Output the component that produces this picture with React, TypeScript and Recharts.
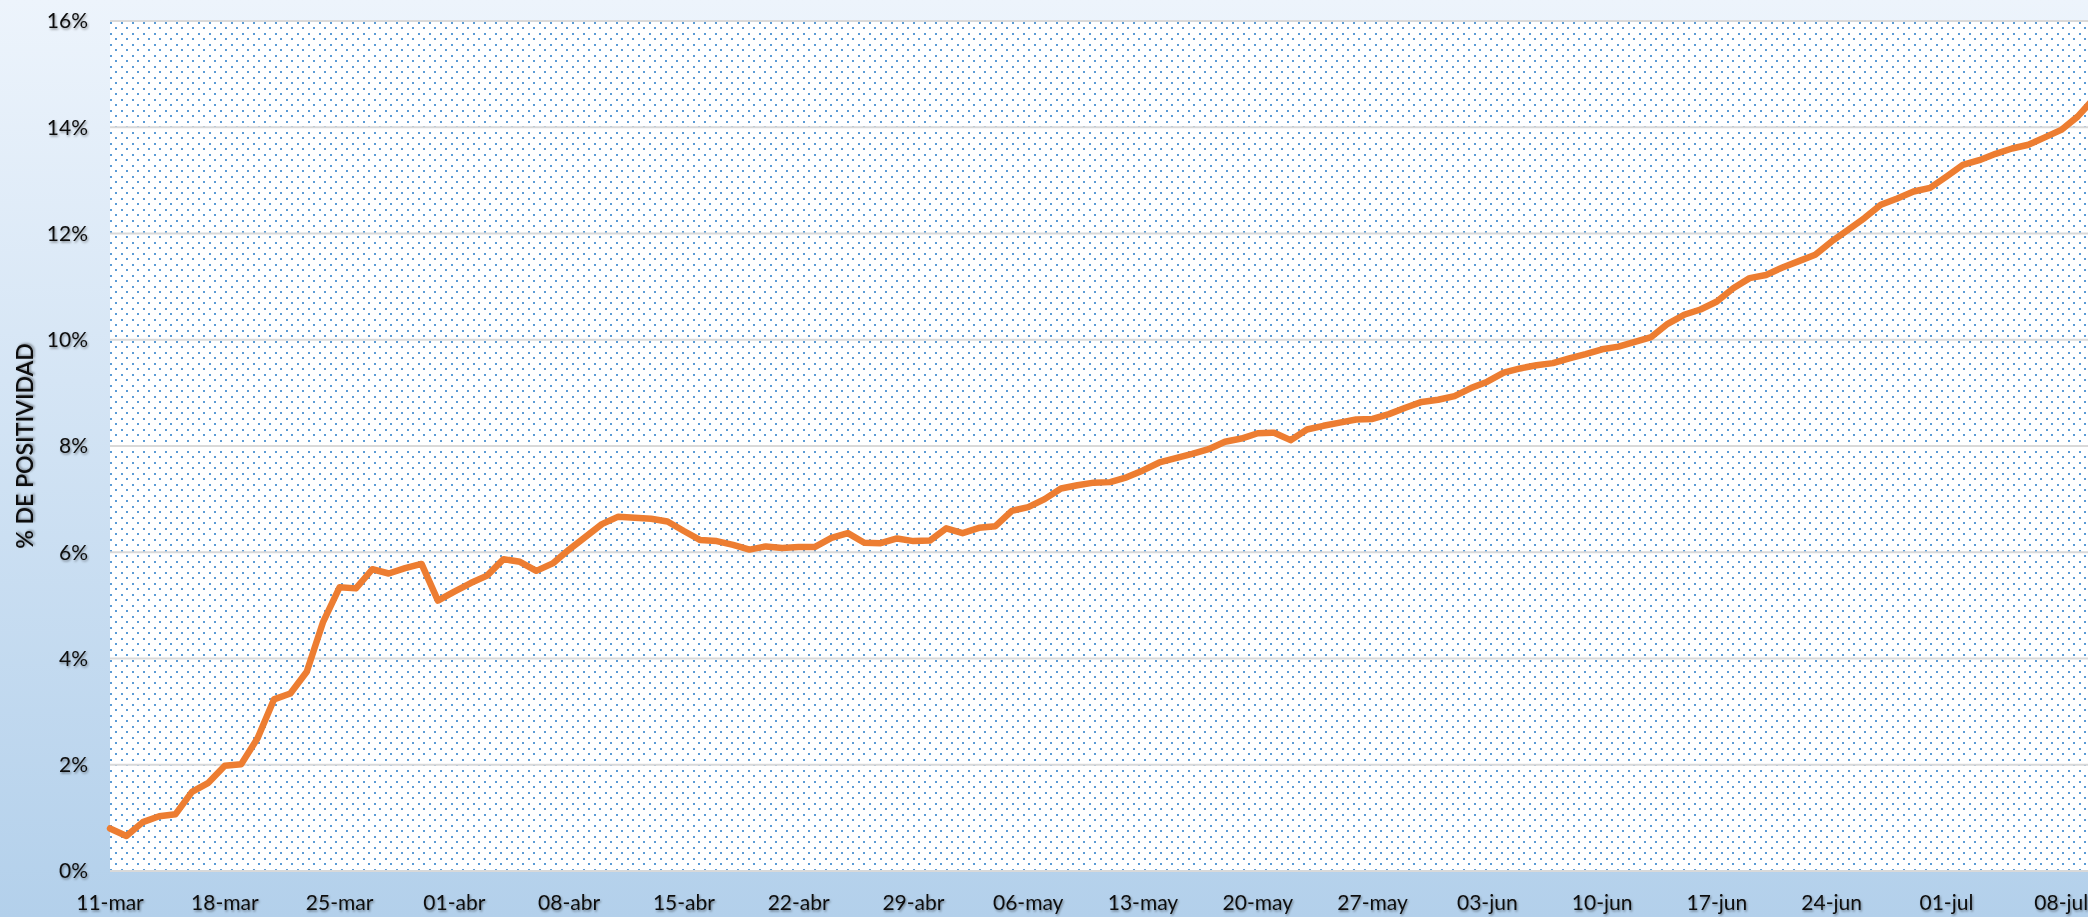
import { LineChart, Line, XAxis, YAxis, CartesianGrid } from "recharts";

// % de positividad diaria, por mes (desde 11-mar hasta 10-jul)
const marchValues = [
  0.8, 0.66, 0.92, 1.03, 1.07, 1.49, 1.66, 1.98, 2.01, 2.5, 3.23, 3.34, 3.75, 4.69, 5.34, 5.32, 5.68, 5.6, 5.7,
  5.78, 5.09,
];
const aprilValues = [
  5.26, 5.42, 5.56, 5.87, 5.82, 5.65, 5.79, 6.05, 6.29, 6.53, 6.67, 6.65, 6.63, 6.58, 6.4, 6.23, 6.21, 6.14, 6.05,
  6.11, 6.08, 6.1, 6.1, 6.27, 6.36, 6.18, 6.17, 6.26, 6.21, 6.22,
];
const mayValues = [
  6.45, 6.36, 6.46, 6.49, 6.78, 6.85, 7.0, 7.2, 7.26, 7.31, 7.32, 7.41, 7.54, 7.69, 7.77, 7.85, 7.94, 8.08, 8.14,
  8.24, 8.25, 8.11, 8.31, 8.38, 8.44, 8.5, 8.51, 8.6, 8.72, 8.83, 8.87,
];
const juneValues = [
  8.94, 9.09, 9.21, 9.38, 9.46, 9.52, 9.56, 9.65, 9.73, 9.82, 9.87, 9.96, 10.05, 10.3, 10.47, 10.57, 10.72, 10.97,
  11.16, 11.22, 11.36, 11.48, 11.6, 11.85, 12.07, 12.29, 12.54, 12.66, 12.79, 12.86,
];
const julyValues = [13.07, 13.29, 13.38, 13.5, 13.6, 13.67, 13.81, 13.95, 14.2, 14.54];

const months = [
  { name: "mar", firstDay: 11, values: marchValues },
  { name: "abr", firstDay: 1, values: aprilValues },
  { name: "may", firstDay: 1, values: mayValues },
  { name: "jun", firstDay: 1, values: juneValues },
  { name: "jul", firstDay: 1, values: julyValues },
];

const yTicks = [0, 2, 4, 6, 8, 10, 12, 14, 16];

const data = months.flatMap((m) =>
  m.values.map((v, i) => ({
    fecha: `${String(m.firstDay + i).padStart(2, "0")}-${m.name}`,
    pct: v,
  }))
);

const FONT = "Lato, 'Open Sans', sans-serif";

const renderYTitle = () => (
  <text
    x={24}
    y={446}
    transform="rotate(-90 24 446)"
    textAnchor="middle"
    dominantBaseline="central"
    fontFamily={FONT}
    fontSize={23}
    fontWeight={600}
    fill="#111"
    filter="url(#tshadow)"
  >
    % DE POSITIVIDAD
  </text>
);

export default function App() {
  return (
    <div
      style={{
        position: "fixed",
        left: 0,
        top: 0,
        width: 2088,
        height: 917,
        overflow: "hidden",
        background: "linear-gradient(to bottom, #EDF4FC, #B3D0EB)",
      }}
    >
      <LineChart width={2094} height={917} data={data} margin={{ top: 21, right: 0, bottom: 0, left: 0 }}>
        <defs>
          <pattern id="dots" width={11} height={11} patternUnits="userSpaceOnUse">
            <rect width={11} height={11} fill="#FFFFFF" />
            <rect x={0} y={0} width={2} height={2} fill="#5B9BD5" shapeRendering="crispEdges" />
            <rect x={5} y={5} width={2} height={2} fill="#5B9BD5" shapeRendering="crispEdges" />
          </pattern>
          <filter id="tshadow" x="-10%" y="-30%" width="130%" height="160%">
            <feDropShadow dx={1} dy={1.5} stdDeviation={1} floodColor="#000" floodOpacity={0.4} />
          </filter>
        </defs>
        <CartesianGrid vertical={false} stroke="#D9D9D9" strokeWidth={2} fill="url(#dots)" fillOpacity={1} />
        <XAxis
          dataKey="fecha"
          interval={6}
          axisLine={false}
          tickLine={false}
          tickSize={0}
          tickMargin={24}
          height={46}
          tick={{ fontFamily: FONT, fontSize: 21, fill: "#111", filter: "url(#tshadow)" }}
        />
        <YAxis
          domain={[0, 16]}
          ticks={yTicks}
          tickFormatter={(v: number) => `${v}%`}
          axisLine={false}
          tickLine={false}
          tickSize={0}
          tickMargin={22}
          width={110}
          tick={{ fontFamily: FONT, fontSize: 21, fill: "#111", filter: "url(#tshadow)" }}
          label={renderYTitle}
        />
        <Line
          type="linear"
          dataKey="pct"
          stroke="#ED7D31"
          strokeWidth={6.5}
          strokeLinejoin="round"
          strokeLinecap="round"
          dot={false}
          activeDot={false}
          isAnimationActive={false}
        />
      </LineChart>
    </div>
  );
}
